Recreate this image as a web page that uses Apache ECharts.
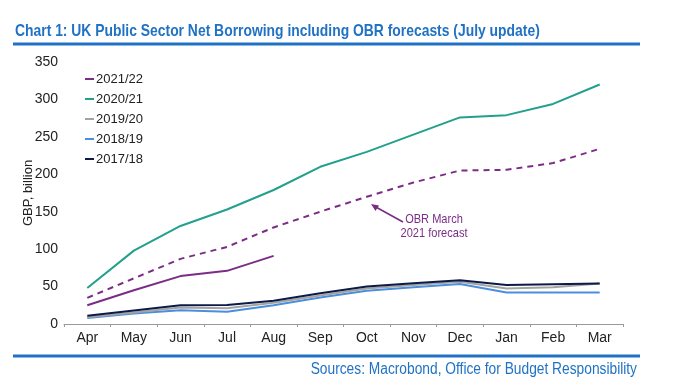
<!DOCTYPE html>
<html>
<head>
<meta charset="utf-8">
<script src="https://cdn.jsdelivr.net/npm/echarts@6/dist/echarts.min.js"></script>
<style>html,body{margin:0;padding:0;background:#fff}#c{width:700px;height:384px}</style>
</head>
<body>
<div id="c"></div>
<script>
const months = ['Apr','May','Jun','Jul','Aug','Sep','Oct','Nov','Dec','Jan','Feb','Mar'];
const yTicks = [0, 50, 100, 150, 200, 250, 300, 350];
const fy2122 = [25, 45, 64, 71, 91];
const fy2021 = [48, 98, 131, 153, 179, 210, 230, 253, 276, 279, 294, 320];
const obrForecast = [35, 61, 87, 103, 129, 150, 170, 189, 205, 206, 215, 234];
const fy1920 = [9, 15.5, 22, 21, 28.5, 38, 47.5, 52, 56.5, 47.5, 49, 54];
const fy1819 = [8, 14, 18.5, 16.5, 25, 35.5, 44.5, 49, 53.5, 42, 42, 42];
const fy1718 = [11, 18, 25, 25.5, 31, 41, 50, 54.5, 58.5, 52, 53, 54];
const seriesNames = ['2021/22', '2020/21', '2019/20', '2018/19', '2017/18'];
const FONT = '"Liberation Sans", Arial, sans-serif';
const BLUE = '#1f72c4';
const PURPLE = '#7b2d86';
const chart = echarts.init(document.getElementById('c'));
function line(name, data, color, dashed, z) {
  return {
    name: name, type: 'line', data: data, symbol: 'none', smooth: false, z: z || 2,
    lineStyle: { color: color, width: 2, type: dashed ? [6, 5] : 'solid' },
    itemStyle: { color: color }
  };
}
chart.setOption({
  animation: false,
  textStyle: { fontFamily: FONT },
  grid: { left: 64, right: 77, top: 62, bottom: 60 },
  legend: {
    data: seriesNames.map(n => ({ name: n, icon: 'rect' })),
    orient: 'vertical', left: 80, top: 67,
    itemWidth: 9, itemHeight: 2, itemGap: 6,
    textStyle: { fontSize: 13, color: '#222', lineHeight: 14, padding: [0, 0, 0, -3] }
  },
  xAxis: {
    type: 'category', data: months, boundaryGap: true,
    axisLine: { lineStyle: { color: '#999', width: 1 } },
    axisTick: { show: true, length: 3, lineStyle: { color: '#999' } },
    axisLabel: { fontSize: 14, color: '#222', margin: 7 }
  },
  yAxis: {
    type: 'value', min: yTicks[0], max: yTicks[yTicks.length - 1], interval: 50,
    name: 'GBP, billion', nameLocation: 'middle', nameGap: 29, nameRotate: 90,
    nameMoveOverlap: false,
    nameTextStyle: { fontSize: 13, color: '#222' },
    axisLine: { show: false }, axisTick: { show: false }, splitLine: { show: false },
    axisLabel: { fontSize: 14, color: '#222', margin: 6 }
  },
  series: [
    line('2017/18', fy1718, '#0c1a47', false, 5),
    line('2018/19', fy1819, '#4a8fdc', false, 3),
    line('2019/20', fy1920, '#a3a3a3', false, 4),
    line('OBR March 2021 forecast', obrForecast, PURPLE, true, 6),
    line('2020/21', fy2021, '#22a08c', false, 7),
    line('2021/22', fy2122, PURPLE, false, 8)
  ],
  graphic: [
    { type: 'text', x: 15, y: 31, scaleX: 0.817, style: { text: 'Chart 1: UK Public Sector Net Borrowing including OBR forecasts (July update)', fill: BLUE, font: 'bold 17px ' + FONT, verticalAlign: 'middle' } },
    { type: 'line', shape: { x1: 13, y1: 44, x2: 640, y2: 44 }, style: { stroke: BLUE, lineWidth: 3 } },
    { type: 'line', shape: { x1: 13, y1: 356, x2: 640, y2: 356 }, style: { stroke: BLUE, lineWidth: 3 } },
    { type: 'text', x: 637, y: 370, scaleX: 0.86, style: { text: 'Sources: Macrobond, Office for Budget Responsibility', fill: BLUE, font: '16px ' + FONT, align: 'right', verticalAlign: 'middle' } },
    { type: 'text', x: 434, y: 226, scaleX: 0.85, style: { text: 'OBR March\n2021 forecast', fill: PURPLE, font: '13px ' + FONT, align: 'center', verticalAlign: 'middle', lineHeight: 14 } },
    { type: 'line', shape: { x1: 403, y1: 222, x2: 374, y2: 206 }, style: { stroke: PURPLE, lineWidth: 1.5 } },
    { type: 'polygon', shape: { points: [[371, 204], [379, 205.5], [375.5, 211]] }, style: { fill: PURPLE } }
  ]
});
</script>
</body>
</html>
